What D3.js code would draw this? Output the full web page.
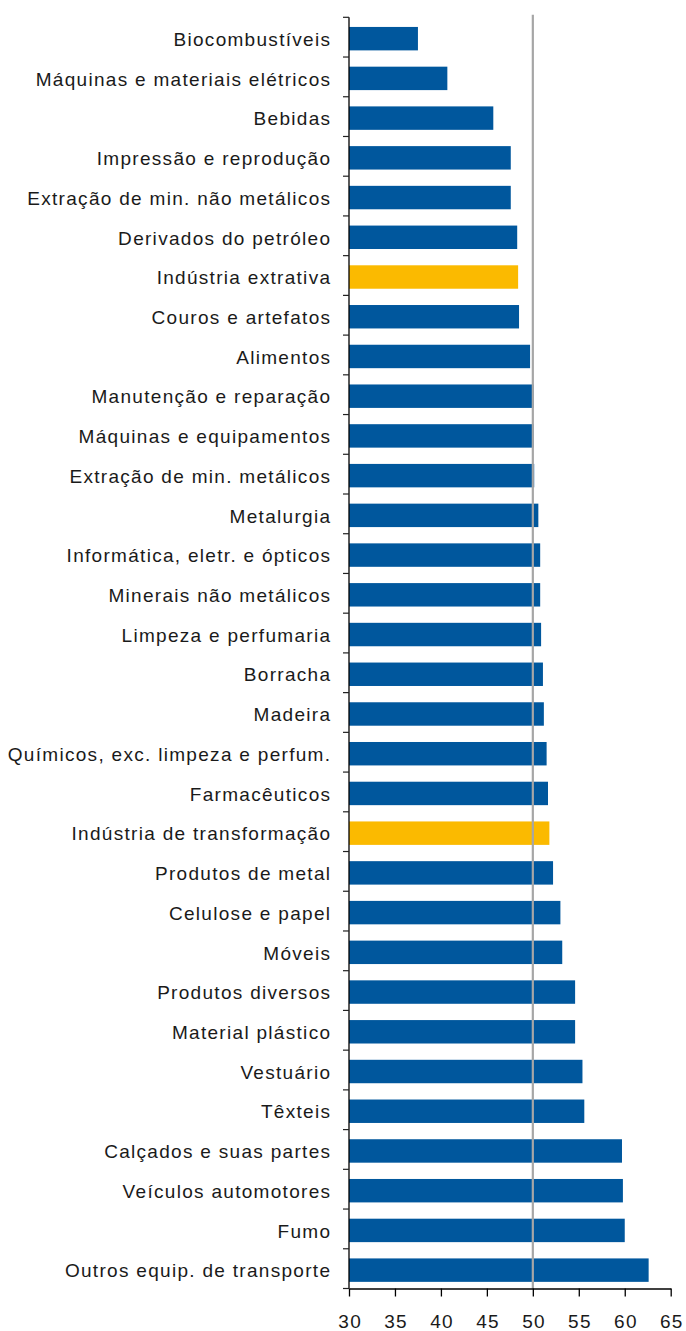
<!DOCTYPE html>
<html>
<head>
<meta charset="utf-8">
<script src="https://cdn.jsdelivr.net/npm/d3@7"></script>
<style>
  html, body { margin: 0; padding: 0; background: #fff; }
  svg text { font-family: "Liberation Sans", Arial, sans-serif; fill: #1a1a1a; letter-spacing: 1.3px; }
</style>
</head>
<body>
<svg id="chart" width="686" height="1331"></svg>
<script>
// Sectors, ordered top to bottom
const categories = [
  "Biocombustíveis",
  "Máquinas e materiais elétricos",
  "Bebidas",
  "Impressão e reprodução",
  "Extração de min. não metálicos",
  "Derivados do petróleo",
  "Indústria extrativa",
  "Couros e artefatos",
  "Alimentos",
  "Manutenção e reparação",
  "Máquinas e equipamentos",
  "Extração de min. metálicos",
  "Metalurgia",
  "Informática, eletr. e ópticos",
  "Minerais não metálicos",
  "Limpeza e perfumaria",
  "Borracha",
  "Madeira",
  "Químicos, exc. limpeza e perfum.",
  "Farmacêuticos",
  "Indústria de transformação",
  "Produtos de metal",
  "Celulose e papel",
  "Móveis",
  "Produtos diversos",
  "Material plástico",
  "Vestuário",
  "Têxteis",
  "Calçados e suas partes",
  "Veículos automotores",
  "Fumo",
  "Outros equip. de transporte"
];

const values = [
  37.5, 40.7, 45.7, 47.6, 47.6, 48.3, 48.4, 48.5, 49.7, 50.1, 50.1, 50.15,
  50.6, 50.8, 50.8, 50.9, 51.1, 51.2, 51.5, 51.65, 51.8, 52.2, 53.0, 53.2,
  54.6, 54.6, 55.4, 55.6, 59.7, 59.8, 60.0, 62.6
];

// Aggregate rows drawn in the highlight colour
const highlighted = ["Indústria extrativa", "Indústria de transformação"];

const xTicks = [30, 35, 40, 45, 50, 55, 60, 65];
const referenceValue = 50;

const data = categories.map((c, i) => ({ name: c, value: values[i] }));

const svg = d3.select("#chart");
const margin = { top: 17.3, left: 349, right: 15.3, bottom: 42.5 };
const width = 686 - margin.left - margin.right;
const height = 1331 - margin.top - margin.bottom;

const g = svg.append("g").attr("transform", `translate(${margin.left},${margin.top})`);

const x = d3.scaleLinear().domain([30, 65]).range([0, width]);
const y = d3.scaleBand().domain(categories).range([0, height]).paddingInner(0.41).paddingOuter(0.205);
const barShift = 1.5;

// Bars
g.selectAll("rect.bar")
  .data(data)
  .join("rect")
  .attr("class", "bar")
  .attr("x", x(30))
  .attr("y", d => y(d.name) + barShift)
  .attr("width", d => x(d.value) - x(30))
  .attr("height", y.bandwidth())
  .attr("fill", d => highlighted.includes(d.name) ? "#FBBA00" : "#00579D");

// Reference line at 50
g.append("line")
  .attr("x1", x(referenceValue)).attr("x2", x(referenceValue))
  .attr("y1", -2.5).attr("y2", height)
  .attr("stroke", "#a6a6a6")
  .attr("stroke-width", 2.2);

// Category axis (ticks on band boundaries)
const yAxisG = g.append("g");
yAxisG.append("line")
  .attr("x1", 0).attr("x2", 0).attr("y1", 0).attr("y2", height)
  .attr("stroke", "#000").attr("stroke-width", 1.3);
yAxisG.selectAll("line.tick")
  .data(d3.range(categories.length + 1))
  .join("line")
  .attr("class", "tick")
  .attr("x1", -6).attr("x2", 0)
  .attr("y1", i => i * (height / categories.length))
  .attr("y2", i => i * (height / categories.length))
  .attr("stroke", "#222").attr("stroke-width", 1.2);
yAxisG.selectAll("text")
  .data(categories)
  .join("text")
  .attr("x", -17.7)
  .attr("y", d => y(d) + barShift + y.bandwidth() / 2)
  .attr("dy", "0.38em")
  .attr("text-anchor", "end")
  .attr("font-size", 19)
  .text(d => d);

// Value axis
const xAxis = d3.axisBottom(x).tickValues(xTicks).tickSize(8).tickSizeOuter(0);
const xAxisG = g.append("g")
  .attr("transform", `translate(0,${height})`)
  .call(xAxis);
xAxisG.select(".domain").attr("stroke", "#000").attr("stroke-width", 1.3);
xAxisG.selectAll(".tick line").attr("stroke", "#000").attr("stroke-width", 1.3);
xAxisG.selectAll(".tick text")
  .attr("font-size", 19)
  .attr("font-family", "Liberation Sans, Arial, sans-serif")
  .attr("fill", "#1a1a1a")
  .attr("dx", "0.65px")
  .attr("y", 39.8)
  .attr("dy", 0);
</script>
</body>
</html>
